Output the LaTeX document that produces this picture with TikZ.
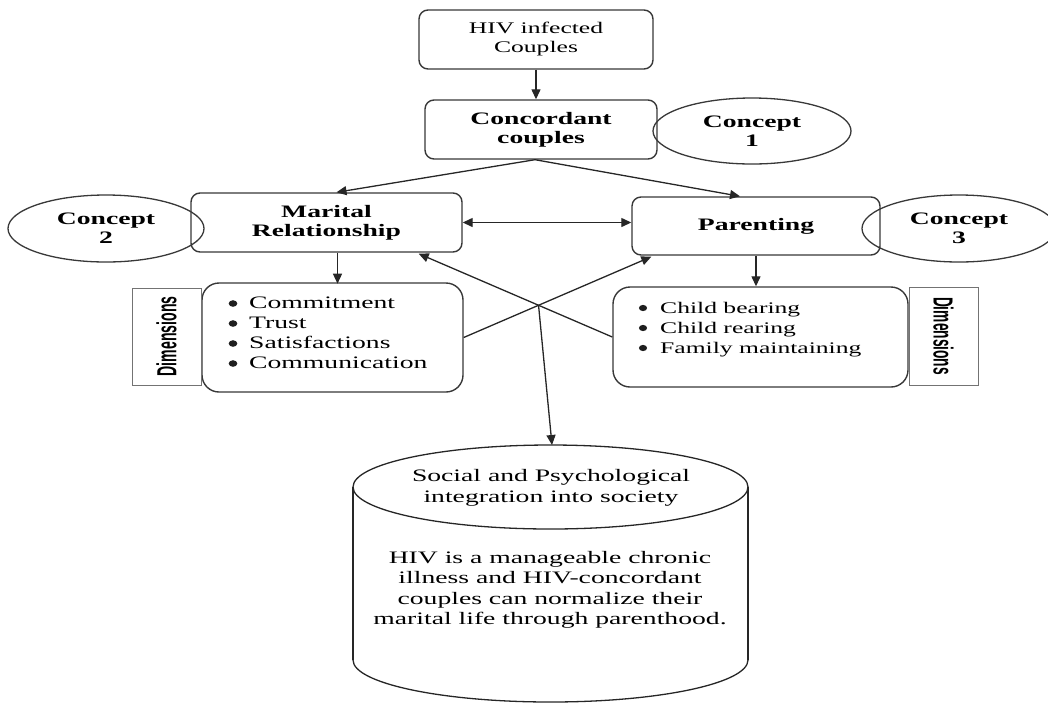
\documentclass[tikz,border=0pt]{standalone}
\usepackage{graphicx}
\usepackage{fontspec}
\setmainfont{Liberation Serif}[FakeStretch=1.58]
\newfontfamily\dimfont{Liberation Sans}
\usetikzlibrary{arrows.meta,shapes.geometric,calc}
\begin{document}
\begin{tikzpicture}[x=1pt,y=-1pt,
  ln/.style={line width=1.3pt, draw=black!85},
  arr/.style={ln, -{Triangle[length=10pt,width=9pt]}},
  dbl/.style={ln, {Triangle[length=10pt,width=9pt]}-{Triangle[length=10pt,width=9pt]}},
  box/.style={draw=black!78, line width=1.4pt, rounded corners=9pt, inner sep=0pt, align=center},
  dimbox/.style={box, rounded corners=17pt},
  bigbold/.style={font=\fontsize{17.5}{19}\selectfont\bfseries},
  concept/.style={draw=black!78, line width=1.3pt, ellipse, inner sep=0pt, align=center, bigbold},
  dimlabel/.style={draw=black!55, line width=0.9pt, inner sep=0pt, minimum height=69pt},
  bodytext/.style={inner sep=0pt, align=center, font=\fontsize{17.5}{20.5}\selectfont},
  bul/.style={fill=black!88},
]
\useasboundingbox (0,0) rectangle (1048,702);

% top boxes
\node[box, minimum width=234pt, minimum height=59pt, font=\fontsize{16.2}{19}\selectfont] (top) at (536,39.5) {HIV infected\\Couples};
\node[box, minimum width=232pt, minimum height=59pt, bigbold] (conc) at (541,129.5) {Concordant\\couples};
\node[concept, minimum width=198pt, minimum height=66pt] (c1) at (752,131) {Concept\\1};

% second row
\node[box, minimum width=271pt, minimum height=59pt, bigbold] (mar) at (326.5,222.5) {Marital\\Relationship};
\node[concept, minimum width=196pt, minimum height=67pt] (c2) at (106,228.5) {Concept\\2};
\node[box, minimum width=248pt, minimum height=58pt, bigbold] (par) at (756,226) {Parenting};
\node[concept, minimum width=194pt, minimum height=67pt] (c3) at (959,228.5) {Concept\\3};

% dimension boxes
\node[dimbox, minimum width=261pt, minimum height=109pt] (ld) at (332.5,337.5) {};
\node[dimbox, minimum width=295pt, minimum height=100pt] (rd) at (760.5,337) {};
\node[anchor=base west, inner sep=0pt, font=\fontsize{17.5}{20}\selectfont] (ldtext) at (249,308)
  {\begin{tabular}[t]{@{}l@{}}Commitment\\ Trust\\ Satisfactions\\ Communication\end{tabular}};
\node[anchor=base west, inner sep=0pt, font=\fontsize{16.2}{20}\selectfont] (rdtext) at (660,313)
  {\begin{tabular}[t]{@{}l@{}}Child bearing\\ Child rearing\\ Family maintaining\end{tabular}};
\foreach \k in {0,1,2,3} \fill[bul] (233,{303.5+20*\k}) ellipse [x radius=4.3, y radius=3.3];
\foreach \k in {0,1,2} \fill[bul] (643,{308+20*\k}) ellipse [x radius=4.1, y radius=3.1];

\node[dimlabel, rotate=90, minimum width=97pt] (dl) at (166.5,336.5) {\resizebox{80pt}{20pt}{\dimfont\bfseries Dimensions}};
\node[dimlabel, rotate=-90, minimum width=98pt] (dr) at (943.5,336) {\resizebox{78pt}{20pt}{\dimfont\bfseries Dimensions}};

% cylinder
\draw[ln] (550.5,487) ellipse [x radius=197.5, y radius=42];
\draw[ln] (353,487) -- (353,660);
\draw[ln] (748,487) -- (748,660);
\begin{scope}
  \clip (340,660) rectangle (760,710);
  \draw[ln] (550.5,660) ellipse [x radius=197.5, y radius=42];
\end{scope}
\coordinate (cyl) at (552,445);
\node[bodytext] (cyltitle) at (551,488) {Social and Psychological\\integration into society};
\node[bodytext] (cylbody) at (550,590) {HIV is a manageable chronic\\illness and HIV-concordant\\couples can normalize their\\marital life through parenthood.};

% connectors
\draw[arr] (top.south) -- (top.south |- conc.north);
\coordinate (cs) at ($(conc.south)+(-6,0)$);
\draw[arr] (cs) -- ($(mar.north)+(10,0)$);
\draw[arr] (cs) -- ($(par.north)+(-16,0)$);
\draw[dbl] (mar.east) -- (mar.east -| par.west);
\draw[arr] ($(mar.south)+(11,0)$) -- ($(mar.south)+(11,31)$);
\draw[arr] (par.south) -- (par.south |- rd.north);
\coordinate (pa) at ($(par.south west)+(20,1)$);
\coordinate (ma) at ($(mar.south east)+(-44,1)$);
\draw[arr] (ld.east) -- (pa);
\draw[arr] (rd.west) -- (ma);
\draw[arr] (intersection of ld.east--pa and rd.west--ma) -- (cyl);
\end{tikzpicture}
\end{document}
